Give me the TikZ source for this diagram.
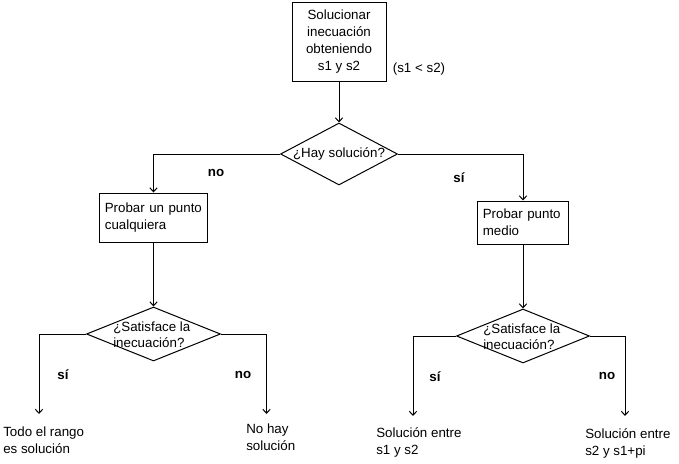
\documentclass[tikz,border=0pt]{standalone}
\usepackage{fontspec}
\setmainfont{Liberation Sans}
\usetikzlibrary{shapes.geometric,arrows.meta}
\begin{document}
\begin{tikzpicture}[x=0.75pt,y=-0.75pt,
  every node/.style={font=\fontsize{10pt}{12.75pt}\selectfont},
  boxc/.style={draw,line width=0.75pt,rectangle,align=center,inner sep=0pt},
  boxl/.style={draw,line width=0.75pt,rectangle,align=left,inner xsep=4pt,inner ysep=0pt},
  dia/.style={draw,line width=0.75pt,diamond,inner sep=0pt},
  lbl/.style={font=\fontsize{10pt}{12pt}\selectfont\bfseries},
  endtxt/.style={anchor=west,align=left,inner sep=0pt,font=\fontsize{10pt}{12.5pt}\selectfont},
  arr/.style={line width=0.75pt,-{Straight Barb[length=3pt,width=5.5pt]}},
  ln/.style={line width=0.75pt}]
\useasboundingbox (0,0) rectangle (679,464);
\fill[white] (0,0) rectangle (679,464);
% top box
\node[boxc,minimum width=70.5pt,minimum height=59.25pt] (b1) at (339,41.5) {Solucionar\\inecuación\\obteniendo\\s1 y s2};
\node (cond) at (419,69) {(s1 {<} s2)};
% diamond 1
\node[dia,minimum width=87.75pt,minimum height=46.5pt] (d1) at (339,154) {};
\node[inner sep=0pt] (t1) at (339,154) {¿Hay solución?};
% left box
\node[boxl,text width=73pt,minimum height=36.75pt] (b2) at (153.5,217.5) {Probar un punto\\cualquiera};
% right box
\node[boxl,text width=60.25pt,minimum height=32.25pt] (b3) at (523,222.5) {Probar punto\\medio};
% diamonds 2,3
\node[dia,minimum width=100.5pt,minimum height=40.5pt] (d2) at (153.5,334) {};
\node[anchor=west,align=left,inner sep=0pt,font=\fontsize{10pt}{12pt}\selectfont] (t2) at (113,335) {¿Satisface la\\inecuación?};
\node[dia,minimum width=99.75pt,minimum height=40.5pt] (d3) at (523,336) {};
\node[anchor=west,align=left,inner sep=0pt,font=\fontsize{10pt}{12pt}\selectfont] (t3) at (483,337) {¿Satisface la\\inecuación?};
% end texts
\node[endtxt] (r1) at (3,440) {Todo el rango\\es solución};
\node[endtxt] (r2) at (246,437) {No hay\\solución};
\node[endtxt] (r3) at (376,442.5) {Solución entre\\s1 y s2};
\node[endtxt] (r4) at (585,443.5) {Solución entre\\s2 y s1+pi};
\coordinate (e1) at (39,414);
\coordinate (e2) at (266.5,414);
\coordinate (e3) at (413,416);
\coordinate (e4) at (625,416);
% labels
\node[lbl] (l1) at (216,173) {no};
\node[lbl] (l2) at (459,178) {sí};
\node[lbl] (l3) at (63,375) {sí};
\node[lbl] (l4) at (243,375) {no};
\node[lbl] (l5) at (435,377) {sí};
\node[lbl] (l6) at (607,376) {no};
% connectors
\draw[arr] (b1) -- (d1);
\draw[arr] (d1.west) -| (b2.north);
\draw[arr] (d1.east) -| (b3.north);
\draw[arr] (b2) -- (d2);
\draw[arr] (b3) -- (d3);
\draw[arr] (d2.west) -| (e1);
\draw[arr] (d2.east) -| (e2);
\draw[arr] (d3.west) -| (e3);
\draw[arr] (d3.east) -| (e4);
\end{tikzpicture}
\end{document}
